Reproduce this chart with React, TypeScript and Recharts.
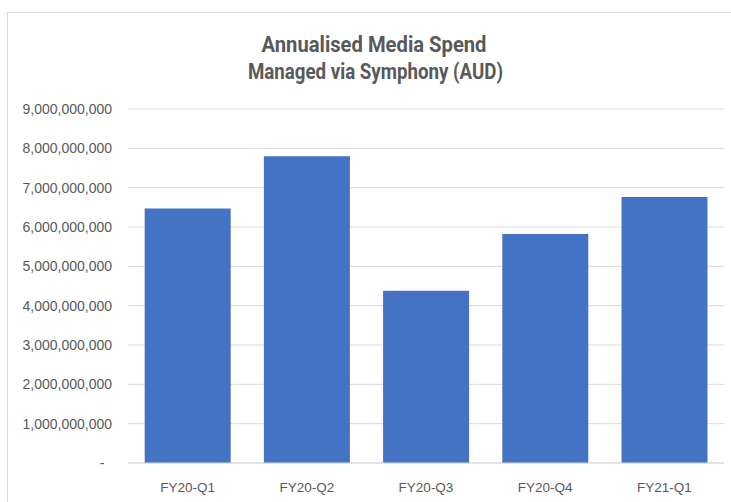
import { BarChart, Bar, XAxis, YAxis, CartesianGrid } from 'recharts';

// quarterly annualised spend, AUD
const quarters = ['FY20-Q1', 'FY20-Q2', 'FY20-Q3', 'FY20-Q4', 'FY21-Q1'];
const spend = [6470000000, 7800000000, 4380000000, 5820000000, 6760000000];
const yTicks = [0, 1e9, 2e9, 3e9, 4e9, 5e9, 6e9, 7e9, 8e9, 9e9];
const titleLines = ['Annualised Media Spend', 'Managed via Symphony (AUD)'];

const data = quarters.map((q, i) => ({ quarter: q, spend: spend[i] }));

const GREY = '#595959';
const GRID = '#d9d9d9';

function YTick(props: any) {
  const { x, y, payload } = props;
  const v = payload.value as number;
  if (v === 0) {
    return (
      <text x={x - 10} y={y} dy="0.355em" textAnchor="middle" fill={GREY} fontSize={14}>
        -
      </text>
    );
  }
  return (
    <text x={x} y={y} dy="0.355em" textAnchor="end" fill={GREY} fontSize={14}>
      {v.toLocaleString('en-US')}
    </text>
  );
}

export default function App() {
  return (
    <div
      style={{
        position: 'absolute', left: 0, top: 0, width: 731, height: 502,
        overflow: 'hidden', background: '#fff',
        fontFamily: '"Liberation Sans", Arial, sans-serif',
      }}
    >
      <div
        style={{
          position: 'absolute', left: 7, top: 12, width: 800, height: 600,
          borderLeft: `1px solid ${GRID}`, borderTop: `1px solid ${GRID}`,
        }}
      />
      <svg width={731} height={100} style={{ position: 'absolute', left: 0, top: 0 }}>
        <text
          x={374} y={52} textAnchor="middle" fill={GREY}
          fontFamily="Roboto, sans-serif" fontWeight={700} fontSize={22}
          textLength={225} lengthAdjust="spacingAndGlyphs"
        >
          {titleLines[0]}
        </text>
        <text
          x={375.5} y={79} textAnchor="middle" fill={GREY}
          fontFamily="Roboto, sans-serif" fontWeight={700} fontSize={22}
          textLength={255} lengthAdjust="spacingAndGlyphs"
        >
          {titleLines[1]}
        </text>
      </svg>
      <div style={{ position: 'absolute', left: 0, top: 0 }}>
        <BarChart
          width={731}
          height={502}
          data={data}
          margin={{ top: 109, right: 7, bottom: 0, left: 0 }}
          barCategoryGap="14%"
        >
          <CartesianGrid vertical={false} stroke={GRID} strokeWidth={1} />
          <XAxis
            dataKey="quarter"
            height={39}
            axisLine={{ stroke: GRID }}
            tickLine={false}
            tickSize={0}
            tickMargin={19}
            tick={{ fill: GREY, fontSize: 13.5 }}
            interval={0}
          />
          <YAxis
            width={128}
            domain={[0, 9e9]}
            ticks={yTicks}
            axisLine={false}
            tickLine={false}
            tickSize={0}
            tickMargin={16}
            tick={<YTick />}
            interval={0}
          />
          <Bar dataKey="spend" fill="#4472C4" isAnimationActive={false} />
        </BarChart>
      </div>
    </div>
  );
}
